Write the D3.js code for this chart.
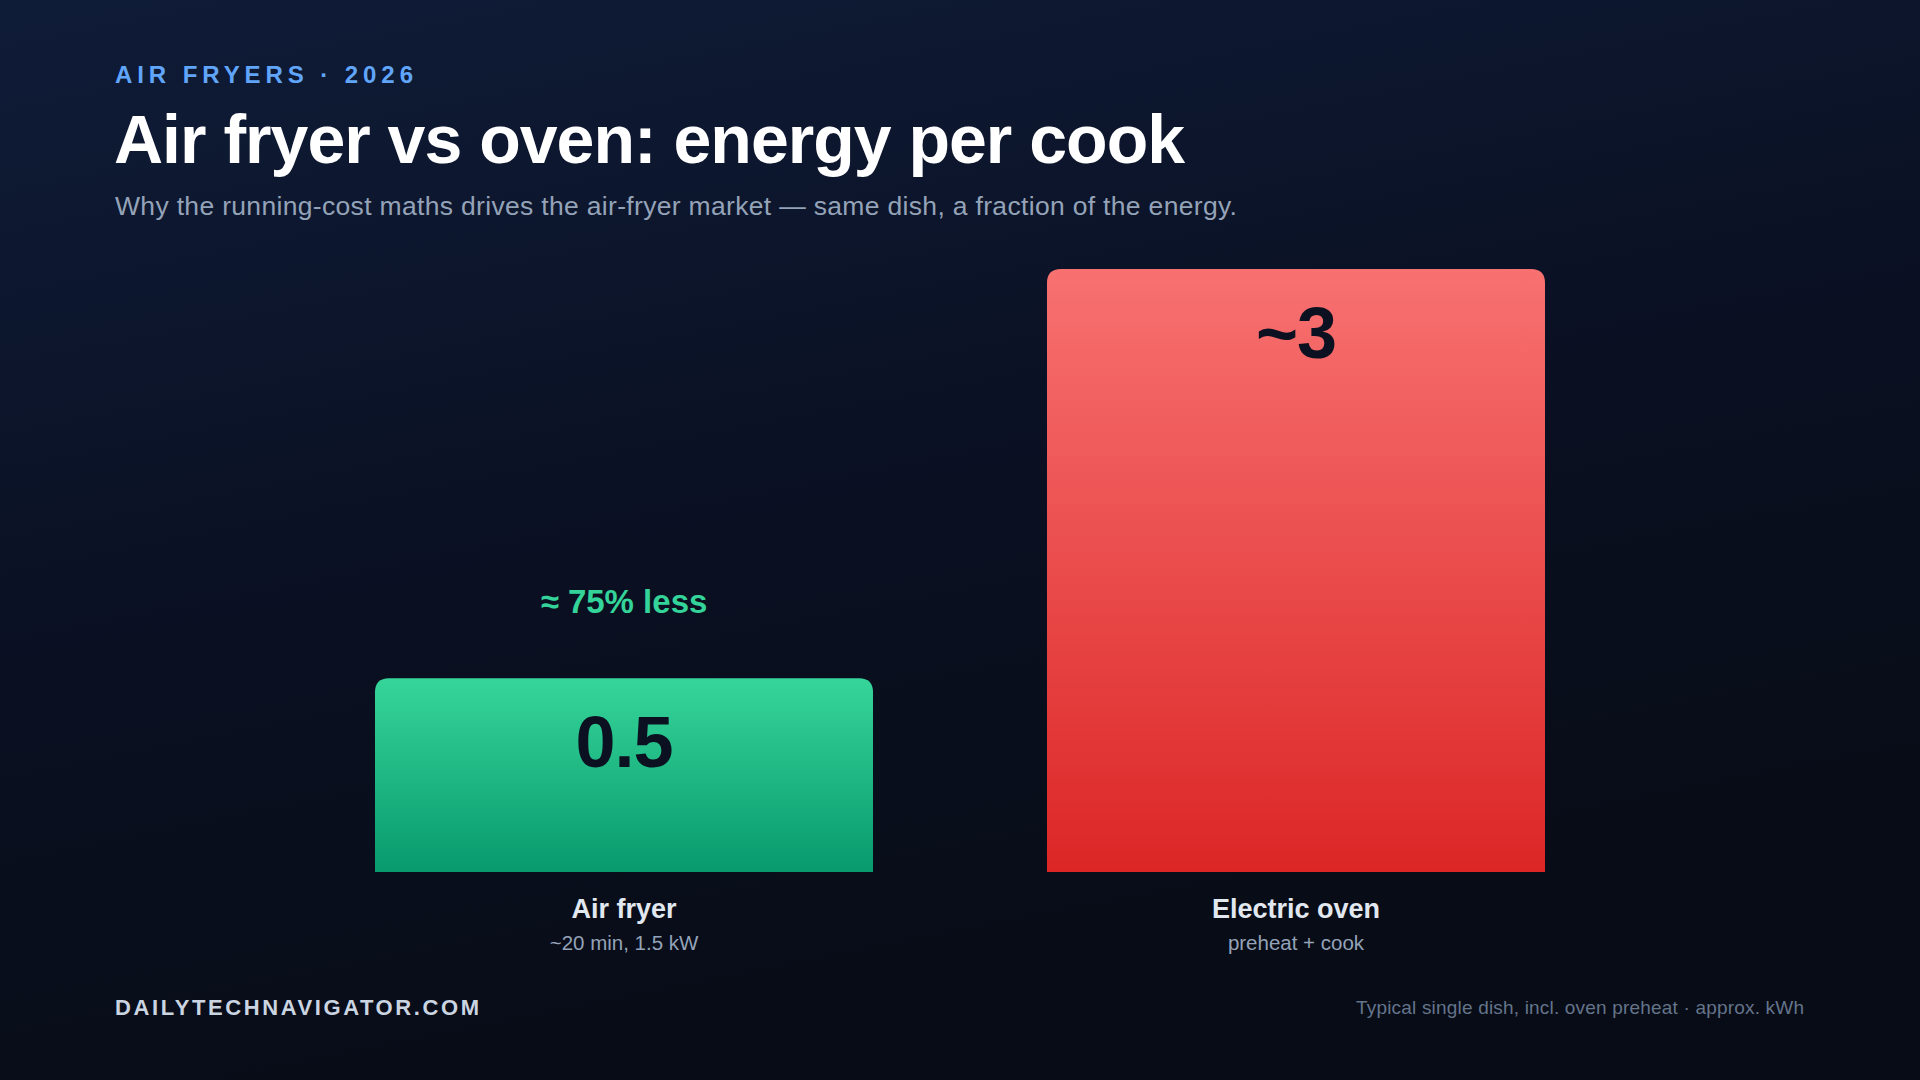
<!DOCTYPE html>
<html>
<head>
<meta charset="utf-8">
<script src="https://cdn.jsdelivr.net/npm/d3@7"></script>
<style>
  html, body { margin: 0; padding: 0; background: #0a0f1d; }
  svg { display: block; }
</style>
</head>
<body>
<svg id="chart" width="1920" height="1080"></svg>
<script>
// ---- data ----
const categories = ["Air fryer", "Electric oven"];
const values = [0.5, 3];
const valueLabels = ["0.5", "~3"];
const subLabels = ["~20 min, 1.5 kW", "preheat + cook"];
const callout = "≈ 75% less";
const eyebrow = "AIR FRYERS · 2026";
const title = "Air fryer vs oven: energy per cook";
const subtitle = "Why the running-cost maths drives the air-fryer market — same dish, a fraction of the energy.";
const footerLeft = "DAILYTECHNAVIGATOR.COM";
const footerRight = "Typical single dish, incl. oven preheat · approx. kWh";

const W = 1920, H = 1080;
const svg = d3.select("#chart");
const defs = svg.append("defs");
const FONT = "'Liberation Sans', Arial, Helvetica, sans-serif";

// background
const bg = defs.append("linearGradient").attr("id", "bg")
  .attr("x1", "0").attr("y1", "0").attr("x2", "0.35").attr("y2", "1");
bg.append("stop").attr("offset", "0").attr("stop-color", "#0f1c38");
bg.append("stop").attr("offset", "0.55").attr("stop-color", "#0a1022");
bg.append("stop").attr("offset", "1").attr("stop-color", "#080c16");
svg.append("rect").attr("width", W).attr("height", H).attr("fill", "url(#bg)");

// bar gradients
const grads = [["gGreen", "#36d59a", "#089a6d"], ["gRed", "#f87171", "#dc2626"]];
grads.forEach(([id, top, bot]) => {
  const g = defs.append("linearGradient").attr("id", id)
    .attr("x1", 0).attr("y1", 0).attr("x2", 0).attr("y2", 1);
  g.append("stop").attr("offset", 0).attr("stop-color", top);
  g.append("stop").attr("offset", 1).attr("stop-color", bot);
});

// helper: fit text width via letter-spacing
function fit(sel, target) {
  const node = sel.node();
  const n = sel.text().length;
  const w = node.getComputedTextLength();
  const ls = (target - w) / Math.max(1, n - 1);
  sel.attr("letter-spacing", ls.toFixed(3));
}

// header
fit(svg.append("text").attr("x", 115).attr("y", 83)
  .attr("font-family", FONT).attr("font-weight", 700).attr("font-size", 24)
  .attr("fill", "#60a5fa").text(eyebrow), 298);

fit(svg.append("text").attr("x", 114).attr("y", 163)
  .attr("font-family", FONT).attr("font-weight", 700).attr("font-size", 68)
  .attr("fill", "#ffffff").text(title), 1071);

fit(svg.append("text").attr("x", 115).attr("y", 215)
  .attr("font-family", FONT).attr("font-size", 26.5)
  .attr("fill", "#94a3b8").text(subtitle), 1122);

// scales
const baseY = 872;
const x = d3.scaleBand().domain(categories).range([375, 1545])
  .paddingInner(0.2589).paddingOuter(0);
const h = d3.scaleLinear().domain([0, 3]).range([112, 603]);

const r = 14;
function barPath(x0, y0, w, hh) {
  return `M${x0},${y0 + hh} L${x0},${y0 + r} Q${x0},${y0} ${x0 + r},${y0} ` +
    `L${x0 + w - r},${y0} Q${x0 + w},${y0} ${x0 + w},${y0 + r} L${x0 + w},${y0 + hh} Z`;
}

const data = categories.map((c, i) => ({ c, v: values[i], lab: valueLabels[i], sub: subLabels[i], i }));

const g = svg.append("g");
g.selectAll("path.bar").data(data).join("path")
  .attr("class", "bar")
  .attr("d", d => barPath(x(d.c), baseY - h(d.v), x.bandwidth(), h(d.v)))
  .attr("fill", d => d.i === 0 ? "url(#gGreen)" : "url(#gRed)");

g.selectAll("text.val").data(data).join("text")
  .attr("class", "val")
  .attr("x", d => x(d.c) + x.bandwidth() / 2)
  .attr("y", d => baseY - h(d.v) + 89)
  .attr("text-anchor", "middle")
  .attr("font-family", FONT).attr("font-weight", 700).attr("font-size", 72)
  .attr("letter-spacing", -1)
  .attr("fill", "#0b1120").text(d => d.lab);

g.selectAll("text.cat").data(data).join("text")
  .attr("class", "cat")
  .attr("x", d => x(d.c) + x.bandwidth() / 2)
  .attr("y", 918)
  .attr("text-anchor", "middle")
  .attr("font-family", FONT).attr("font-weight", 700).attr("font-size", 27)
  .attr("fill", "#e2e8f0").text(d => d.c);

g.selectAll("text.sub").data(data).join("text")
  .attr("class", "sub")
  .attr("x", d => x(d.c) + x.bandwidth() / 2)
  .attr("y", 950)
  .attr("text-anchor", "middle")
  .attr("font-family", FONT).attr("font-size", 20.5)
  .attr("fill", "#94a3b8").text(d => d.sub);

// callout above air fryer
g.append("text")
  .attr("x", x(categories[0]) + x.bandwidth() / 2)
  .attr("y", baseY - h(values[0]) - 65)
  .attr("text-anchor", "middle")
  .attr("font-family", FONT).attr("font-weight", 700).attr("font-size", 33)
  .attr("fill", "#34d399").text(callout);

// footer
fit(svg.append("text").attr("x", 115).attr("y", 1015)
  .attr("font-family", FONT).attr("font-weight", 700).attr("font-size", 22)
  .attr("fill", "#cbd5e1").text(footerLeft), 364);

fit(svg.append("text").attr("x", 1356).attr("y", 1014)
  .attr("font-family", FONT).attr("font-size", 19)
  .attr("fill", "#64748b").text(footerRight), 448);
</script>
</body>
</html>
